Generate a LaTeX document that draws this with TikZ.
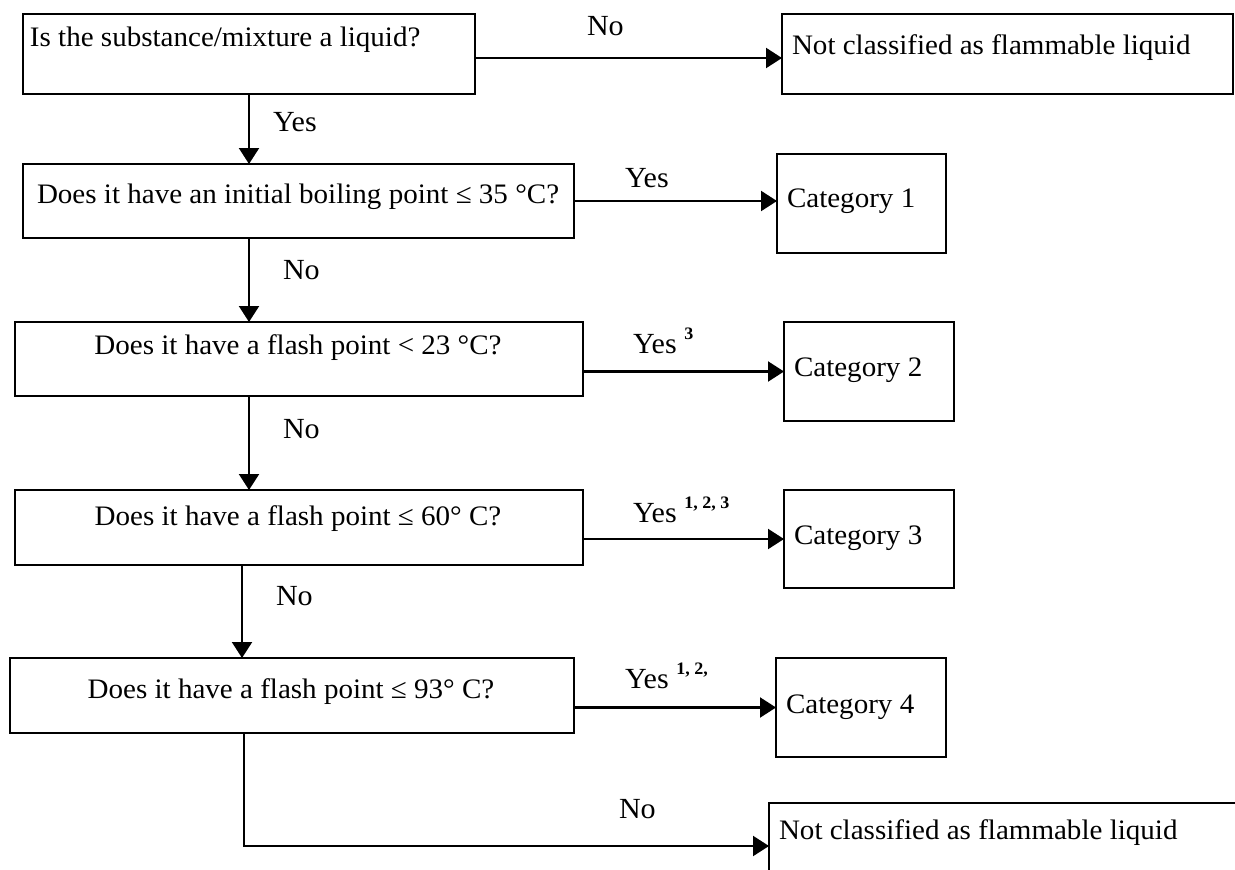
\documentclass[tikz,border=0pt]{standalone}
\usepackage{fontspec}
\setmainfont{Liberation Serif}[FakeStretch=1.03]
\usetikzlibrary{arrows.meta}

\tikzset{
  box/.style={draw, line width=2.1pt, rectangle, inner sep=0pt, outer sep=0pt, anchor=north west},
  txt/.style={inner sep=0pt, outer sep=0pt, anchor=base west, font=\fontsize{28.2}{32}\selectfont},
  ctxt/.style={txt, anchor=base},
  lbl/.style={inner sep=0pt, outer sep=0pt, anchor=base west, font=\fontsize{29.2}{33}\selectfont},
  arr/.style={line width=2.1pt, -{Triangle[length=16pt, width=20pt]}},
}
\newcommand{\fnote}[1]{\raisebox{13.5pt}{\fontsize{17.5}{18}\selectfont\bfseries #1}}

\begin{document}
\begin{tikzpicture}[x=1pt, y=-1pt]
  \useasboundingbox (0,0) rectangle (1235,870);
  \fill[white] (0,0) rectangle (1235,870);
  \clip (0,0) rectangle (1235,870);

  % question boxes (left column)
  \node[box, minimum width=452pt, minimum height=80pt] (b1) at (23,14) {};
  \node[box, minimum width=551pt, minimum height=74pt] (b2) at (23,164) {};
  \node[box, minimum width=568pt, minimum height=74pt] (b3) at (15,322) {};
  \node[box, minimum width=568pt, minimum height=75pt] (b4) at (15,490) {};
  \node[box, minimum width=564pt, minimum height=75pt] (b5) at (10,658) {};

  % outcome boxes (right column)
  \node[box, minimum width=451pt, minimum height=80pt] (nc1) at (782,14) {};
  \node[box, minimum width=169pt, minimum height=99pt] (c1) at (777,154) {};
  \node[box, minimum width=170pt, minimum height=99pt] (c2) at (784,322) {};
  \node[box, minimum width=170pt, minimum height=98pt] (c3) at (784,490) {};
  \node[box, minimum width=170pt, minimum height=99pt] (c4) at (776,658) {};
  \node[box, minimum width=480pt, minimum height=90pt] (nc2) at (769,803) {};

  % box texts
  \node[txt] (t1) at (30,46) {Is the substance/mixture a liquid?};
  \node[txt] (t2) at (37,203) {Does it have an initial boiling point ≤ 35 °C?};
  \node[ctxt] (t3) at (298,354) {Does it have a flash point < 23 °C?};
  \node[ctxt] (t4) at (298,525) {Does it have a flash point ≤ 60° C?};
  \node[ctxt] (t5) at (291,698) {Does it have a flash point ≤ 93° C?};

  \node[txt] (tn1) at (792,54) {Not classified as flammable liquid};
  \node[txt] (tc1) at (787,207) {Category 1};
  \node[txt] (tc2) at (794,376) {Category 2};
  \node[txt] (tc3) at (794,544) {Category 3};
  \node[txt] (tc4) at (786,713) {Category 4};
  \node[txt] (tn2) at (779,839) {Not classified as flammable liquid};

  % connectors
  \draw[arr] ([yshift=-4pt]b1.east) -- ([yshift=-4pt]nc1.west);
  \draw[arr] (b2.east) -- (b2.east -| c1.west);
  \draw[arr] (b3.east |- c2.west) -- (c2.west);
  \draw[arr] (b4.east |- c3.west) -- (c3.west);
  \draw[arr] (b5.east |- c4.west) -- (c4.west);

  \draw[arr] (b1.south) -- (b1.south |- b2.north);
  \draw[arr] (b1.south |- b2.south) -- (b1.south |- b3.north);
  \draw[arr] (b1.south |- b3.south) -- (b1.south |- b4.north);
  \draw[arr] ([xshift=227pt]b4.south west) -- ([xshift=227pt]b4.south west |- b5.north);
  \draw[arr] ([xshift=234pt]b5.south west) |- ([yshift=-43pt]nc2.north west);

  % connector labels
  \node[lbl] (l1) at (587,35) {No};
  \node[lbl] (l2) at (273,131) {Yes};
  \node[lbl] (l3) at (625,187) {Yes};
  \node[lbl] (l4) at (283,279) {No};
  \node[lbl] (l5) at (633,353) {Yes \fnote{3}};
  \node[lbl] (l6) at (283,438) {No};
  \node[lbl] (l7) at (633,522) {Yes \fnote{1, 2, 3}};
  \node[lbl] (l8) at (276,605) {No};
  \node[lbl] (l9) at (625,688) {Yes \fnote{1, 2,}};
  \node[lbl] (l10) at (619,818) {No};
\end{tikzpicture}
\end{document}
